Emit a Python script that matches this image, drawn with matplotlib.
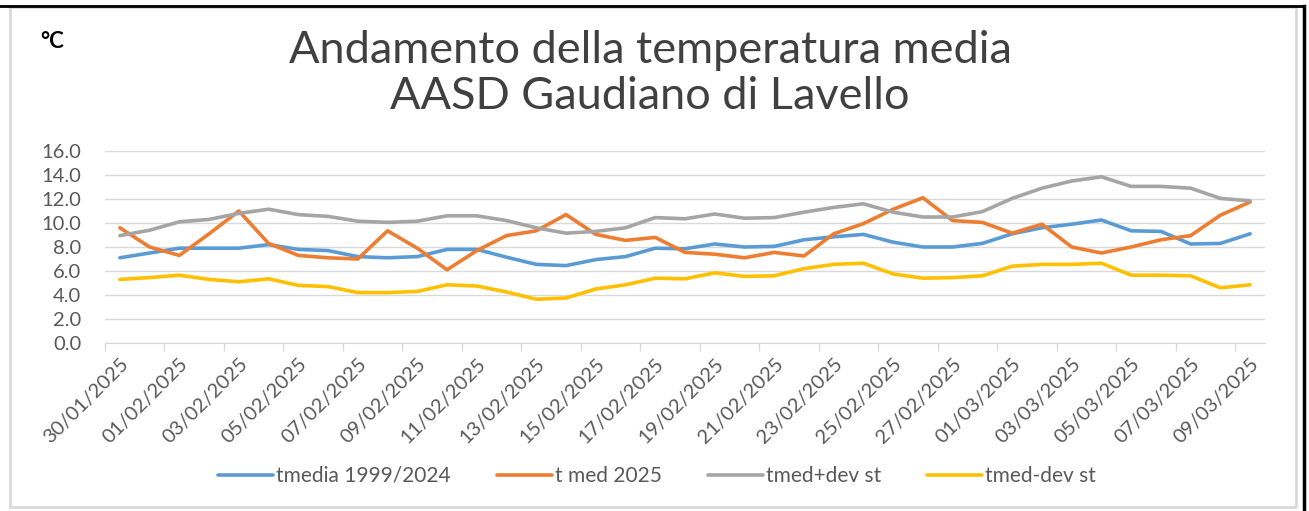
import matplotlib
matplotlib.use("Agg")
import matplotlib.pyplot as plt
from matplotlib.lines import Line2D
import pandas as pd

# date (categorie asse x)
giorni = pd.date_range("2025-01-30", "2025-03-09", freq="D")
etichette = [d.strftime("%d/%m/%Y") for d in giorni]

tmedia_storica = [7.1, 7.5, 7.9, 7.9, 7.9, 8.2, 7.8, 7.7, 7.2, 7.1, 7.2, 7.8, 7.8,
                  7.15, 6.55, 6.45, 6.95, 7.2, 7.9, 7.85, 8.25, 8.0, 8.05, 8.6, 8.85,
                  9.05, 8.4, 8.0, 8.0, 8.3, 9.1, 9.6, 9.9, 10.25, 9.35, 9.3, 8.25, 8.3, 9.1]
tmed_2025 = [9.6, 8.0, 7.3, 9.1, 11.0, 8.3, 7.3, 7.1, 7.0, 9.35, 7.9, 6.1, 7.7,
             8.95, 9.35, 10.7, 9.05, 8.55, 8.8, 7.55, 7.4, 7.1, 7.55, 7.25, 9.1,
             9.95, 11.15, 12.1, 10.2, 10.05, 9.15, 9.9, 8.0, 7.5, 8.0, 8.6, 8.95, 10.65, 11.75]
tmed_piu_dev = [8.95, 9.4, 10.1, 10.3, 10.8, 11.15, 10.7, 10.55, 10.15, 10.05, 10.15, 10.6, 10.6,
                10.2, 9.6, 9.15, 9.3, 9.6, 10.45, 10.35, 10.75, 10.4, 10.45, 10.9, 11.3,
                11.6, 10.9, 10.5, 10.5, 10.95, 12.05, 12.9, 13.5, 13.85, 13.05, 13.05, 12.9, 12.05, 11.85]
tmed_meno_dev = [5.3, 5.45, 5.65, 5.3, 5.1, 5.35, 4.8, 4.7, 4.2, 4.2, 4.3, 4.85, 4.75,
                 4.25, 3.65, 3.75, 4.5, 4.85, 5.4, 5.35, 5.85, 5.55, 5.6, 6.2, 6.55,
                 6.65, 5.75, 5.4, 5.45, 5.6, 6.4, 6.55, 6.55, 6.65, 5.65, 5.65, 5.6, 4.6, 4.85]

serie = [
    ("tmedia 1999/2024", tmedia_storica, "#5B9BD5"),
    ("t med 2025", tmed_2025, "#ED7D31"),
    ("tmed+dev st", tmed_piu_dev, "#A5A5A5"),
    ("tmed-dev st", tmed_meno_dev, "#FFC000"),
]

plt.rcParams['font.family'] = ['Lato', 'DejaVu Sans']

W, H = 1309, 511
fig = plt.figure(figsize=(W / 100, H / 100), dpi=100)
ax = fig.add_axes([105 / W, (H - 343) / H, (1265 - 105) / W, (343 - 151) / H])

x = list(range(len(etichette)))
for nome, valori, colore in serie:
    ax.plot(x, valori, color=colore, linewidth=2.6, label=nome, solid_capstyle='round')

ax.set_xlim(-0.5, len(etichette) - 0.5)
ax.set_ylim(0, 16)
ax.set_yticks(range(0, 17, 2))
ax.set_yticklabels([f"{v:.1f}" for v in range(0, 17, 2)], color="#595959", fontsize=14.5)
ax.yaxis.grid(True, color="#d9d9d9", linewidth=1)
ax.set_axisbelow(True)
ax.tick_params(axis='y', length=0, pad=17)

ax.set_xticks(x[::2])
ax.set_xticklabels(etichette[::2], rotation=45, ha='right', rotation_mode='anchor',
                   color="#595959", fontsize=14.5)
ax.set_xticks([i - 0.5 for i in range(0, len(etichette) + 1, 2)], minor=True)
ax.tick_params(axis='x', which='major', length=0, pad=9)
ax.tick_params(axis='x', which='minor', length=6, color="#d9d9d9", width=1)

for s in ['top', 'right', 'left']:
    ax.spines[s].set_visible(False)
ax.spines['bottom'].set_color("#d9d9d9")

fig.text(650 / W, 1 - 63 / H, "Andamento della temperatura media",
         ha='center', va='baseline', fontsize=32.5, color="#404040")
fig.text(650 / W, 1 - 109 / H, "AASD Gaudiano di Lavello",
         ha='center', va='baseline', fontsize=32.5, color="#404040")
fig.text(40 / W, 1 - 48 / H, "°C", ha='left', va='baseline', fontsize=16,
         fontweight='bold', color="black")

fig.legend(loc='center', bbox_to_anchor=(657 / W, 1 - 476 / H), ncol=4, frameon=False,
           fontsize=15, handlelength=2.65, columnspacing=2.2, handletextpad=0.15,
           labelcolor="#595959")

# cornice grigia e bordo nero
fig.add_artist(Line2D([9.5 / W, 9.5 / W, 1295.5 / W, 1295.5 / W, 9.5 / W],
                      [1 - 507 / H, 1 - 7 / H, 1 - 7 / H, 1 - 507 / H, 1 - 507 / H],
                      color="#d9d9d9", linewidth=2))
fig.add_artist(Line2D([0, 1303.5 / W], [1 - 6 / H, 1 - 6 / H], color="black", linewidth=2))
fig.add_artist(Line2D([1303.5 / W, 1303.5 / W], [1 - 6 / H, 0], color="black", linewidth=2.5))

fig.savefig("out.png", dpi=100)
